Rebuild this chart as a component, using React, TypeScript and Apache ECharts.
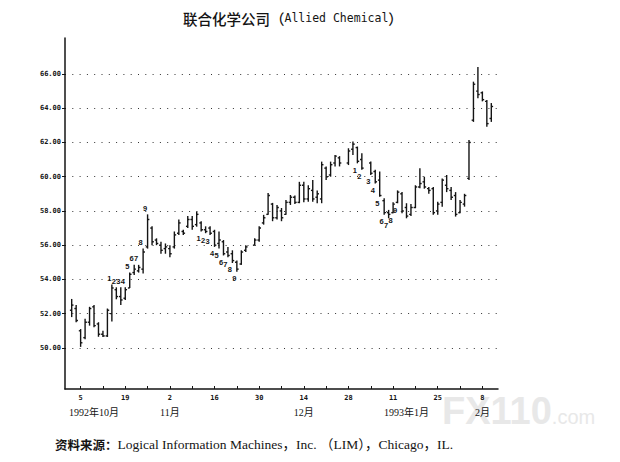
import React, { useEffect, useRef } from "react";
import * as echarts from "echarts";

const dates = [
  "1992-09-30", "1992-10-01", "1992-10-02",
  "1992-10-05", "1992-10-06", "1992-10-07", "1992-10-08", "1992-10-09",
  "1992-10-12", "1992-10-13", "1992-10-14", "1992-10-15", "1992-10-16",
  "1992-10-19", "1992-10-20", "1992-10-21", "1992-10-22", "1992-10-23",
  "1992-10-26", "1992-10-27", "1992-10-28", "1992-10-29", "1992-10-30",
  "1992-11-02", "1992-11-03", "1992-11-04", "1992-11-05", "1992-11-06",
  "1992-11-09", "1992-11-10", "1992-11-11", "1992-11-12", "1992-11-13",
  "1992-11-16", "1992-11-17", "1992-11-18", "1992-11-19", "1992-11-20",
  "1992-11-23", "1992-11-24", "1992-11-25", "1992-11-26", "1992-11-27",
  "1992-11-30", "1992-12-01", "1992-12-02", "1992-12-03", "1992-12-04",
  "1992-12-07", "1992-12-08", "1992-12-09", "1992-12-10", "1992-12-11",
  "1992-12-14", "1992-12-15", "1992-12-16", "1992-12-17", "1992-12-18",
  "1992-12-21", "1992-12-22", "1992-12-23", "1992-12-24", "1992-12-25",
  "1992-12-28", "1992-12-29", "1992-12-30", "1992-12-31", "1993-01-01",
  "1993-01-04", "1993-01-05", "1993-01-06", "1993-01-07", "1993-01-08",
  "1993-01-11", "1993-01-12", "1993-01-13", "1993-01-14", "1993-01-15",
  "1993-01-18", "1993-01-19", "1993-01-20", "1993-01-21", "1993-01-22",
  "1993-01-25", "1993-01-26", "1993-01-27", "1993-01-28", "1993-01-29",
  "1993-02-01", "1993-02-02", "1993-02-03", "1993-02-04", "1993-02-05",
  "1993-02-08", "1993-02-09", "1993-02-10", "1993-02-11",
];

const opens = [
  null, 52.2, 52.3, 51.0, 50.6, 51.5, 52.4, 51.4, 50.8, 50.7,
  52.0, 53.4, 53.0, 52.9, 53.5, 54.4, 54.5, 54.6, 55.9, 57.0,
  56.3, 56.0, 55.8, 55.8, 55.9, 56.7, 56.8, 57.1, 57.5, 57.2,
  57.3, 56.9, 57.0, 56.8, 56.1, 56.2, 55.6, 55.5, 55.0, 54.9,
  55.7, null, 56.0, 56.3, 57.3, 57.8, 58.4, 57.6, 58.0, 57.8,
  58.5, 58.8, 58.5, 59.5, 58.7, 59.2, 58.8, 58.7, 60.5, 60.1,
  60.8, 61.1, null, 60.8, 61.6, 61.7, 61.0, null, 60.8, 60.3,
  59.8, 58.6, 57.9, 57.9, 58.5, 59.0, 58.2, 57.8, 58.2, 59.4,
  59.7, 59.3, 59.3, 58.0, 58.5, 59.5, 59.2, 58.9, 57.9, 58.4,
  59.9, 63.3, 65.0, 64.9, 64.4, 63.4, null,
];
const highs = [
  null, 52.86, 52.5, 51.1, 51.7, 52.4, 52.5, 51.5, 51.0, 52.3,
  53.7, 53.54, 53.54, 53.54, 54.4, 54.85, 54.85, 55.8, 57.8, 57.1,
  56.4, 56.2, 56.1, 56.0, 56.8, 57.5, 56.9, 57.7, 57.7, 57.96,
  57.4, 57.1, 57.1, 56.9, 56.8, 56.3, 55.9, 55.7, 55.1, 55.7,
  56.0, null, 56.4, 57.1, 57.77, 59.05, 58.47, 58.35, 58.17, 58.64,
  58.93, 58.9, 59.7, 59.7, 59.5, 59.8, 59.2, 60.88, 60.6, 60.88,
  61.27, 61.2, null, 61.66, 62.05, 61.76, 61.37, null, 60.88, 60.4,
  60.3, 58.74, 58.06, 58.5, 59.2, 59.1, 58.45, 58.4, 59.5, 60.5,
  60.0, 59.4, 59.4, 58.54, 59.9, 60.1, 59.4, 59.1, 58.64, 59.0,
  62.15, 65.55, 66.4, 64.98, 64.48, 64.3, null,
];
const lows = [
  null, 51.8, 51.5, 50.06, 50.5, 51.3, 51.2, 50.65, 50.64, 50.64,
  51.54, 52.84, 52.5, 52.8, 53.5, 54.26, 54.4, 54.35, 55.8, 56.0,
  56.0, 55.5, 55.5, 55.3, 55.8, 56.6, 56.6, 57.0, 56.9, 57.08,
  56.8, 56.7, 56.6, 55.9, 55.8, 55.4, 55.3, 54.96, 54.45, 54.85,
  55.6, null, 56.0, 56.2, 57.2, 57.77, 57.4, 57.5, 57.4, 57.77,
  58.35, 58.4, 58.45, 58.5, 58.54, 58.54, 58.45, 58.45, 59.8, 60.0,
  60.6, 60.6, null, 60.68, 61.27, 60.78, 60.4, null, 60.1, 59.6,
  58.83, 57.77, 57.57, 57.87, 58.45, 57.87, 57.57, 57.7, 58.16, 59.33,
  59.3, 59.0, 57.77, 57.77, 58.25, 59.1, 58.64, 57.67, 57.87, 58.25,
  59.8, 63.2, 64.58, 64.4, 62.92, 63.2, null,
];
const closes = [
  null, 52.5, 51.6, 50.3, 51.5, 52.3, 51.3, 50.8, 50.7, 52.2,
  53.5, 53.0, 52.8, 53.4, 54.3, 54.6, 54.7, 55.6, 57.5, 56.2,
  56.1, 55.7, 55.9, 55.5, 56.6, 57.3, 56.7, 57.5, 57.1, 57.8,
  56.9, 56.8, 56.7, 56.0, 56.3, 55.5, 55.4, 55.1, 54.6, 55.6,
  55.9, null, 56.3, 57.0, 57.6, 58.9, 57.6, 58.2, 57.6, 58.5,
  58.8, 58.5, 59.5, 58.7, 59.3, 58.7, 59.0, 60.7, 60.0, 60.7,
  61.2, 60.8, null, 61.5, 61.9, 60.9, 60.5, null, 60.2, 59.7,
  58.9, 57.9, 57.8, 58.4, 59.1, 58.0, 57.7, 58.2, 59.4, 59.6,
  59.4, 59.2, 57.9, 58.4, 59.8, 59.3, 58.8, 57.8, 58.5, 58.9,
  62.0, 65.4, 64.8, 64.5, 63.1, 64.1, null,
];

// TD-style setup counts printed on the chart
const upSetupDates = ["1992-10-14", "1992-10-15", "1992-10-16", "1992-10-19", "1992-10-20", "1992-10-21", "1992-10-22", "1992-10-23", "1992-10-26"];
const upSetupText = ["1", "2", "3", "4", "5", "6", "7", "8", "9"];
const downSetupDates = [
  "1992-11-11", "1992-11-12", "1992-11-13", "1992-11-16", "1992-11-17", "1992-11-18", "1992-11-19", "1992-11-20", "1992-11-23",
  "1992-12-30", "1992-12-31", "1993-01-04", "1993-01-05", "1993-01-06", "1993-01-07", "1993-01-08", "1993-01-11", "1993-01-12",
];
const downSetupText = ["1", "2", "3", "4", "5", "6", "7", "8", "9", "1", "2", "3", "4", "5", "6", "7", "8", "9"];

const weekTicks = [
  "1992-10-05", "1992-10-12", "1992-10-19", "1992-10-26", "1992-11-02", "1992-11-09", "1992-11-16", "1992-11-23", "1992-11-30",
  "1992-12-07", "1992-12-14", "1992-12-21", "1992-12-28", "1993-01-04", "1993-01-11", "1993-01-18", "1993-01-25", "1993-02-01", "1993-02-08",
];
const tickLabelDates = ["1992-10-05", "1992-10-19", "1992-11-02", "1992-11-16", "1992-11-30", "1992-12-14", "1992-12-28", "1993-01-11", "1993-01-25", "1993-02-08"];
const tickLabels = ["5", "19", "2", "16", "30", "14", "28", "11", "25", "8"];
const monthLabelDates = ["1992-10-08", "1992-11-02", "1992-12-14", "1993-01-14", "1993-02-08"];
const monthLabels = ["1992年10月", "11月", "12月", "1993年1月", "2月"];

const yTicks = [50, 52, 54, 56, 58, 60, 62, 64, 66];

const titleCn = "联合化学公司";
const titleEn = "Allied Chemical";
const sourceLead = "资料来源：";
const sourceText = "Logical Information Machines，Inc. （LIM），Chicago，IL.";
const watermarkMain = "FX110";
const watermarkTail = ".com";

const INK = "#141414";

export default function App() {
  const ref = useRef<HTMLDivElement>(null);

  useEffect(() => {
    document.body.style.margin = "0";
    const chart = echarts.init(ref.current!, null, { renderer: "svg" });

    const barData: any[] = [];
    dates.forEach((d, i) => {
      if (highs[i] != null) barData.push([i, opens[i], highs[i], lows[i], closes[i]]);
    });
    const upData = upSetupDates.map((d, k) => {
      const i = dates.indexOf(d);
      return [i, highs[i], upSetupText[k]];
    });
    const downData = downSetupDates.map((d, k) => {
      const i = dates.indexOf(d);
      return [i, lows[i], downSetupText[k]];
    });

    const lineStyle = { stroke: INK, lineWidth: 1.4 };

    const labelRender = (above: boolean) => (params: any, api: any) => {
      const p = api.coord([api.value(0), api.value(1)]);
      return {
        type: "text",
        x: p[0] - 2.5,
        y: above ? p[1] - 2 : p[1] + 3,
        style: {
          text: String(api.value(2)),
          fill: INK,
          fontSize: 7.5,
          fontWeight: "bold",
          fontFamily: "Liberation Sans, Arial, sans-serif",
          align: "center",
          verticalAlign: above ? "bottom" : "top",
        },
      };
    };

    chart.setOption({
      animation: false,
      backgroundColor: "#ffffff",
      grid: { left: 65, top: 38, width: 433, height: 351 },
      xAxis: [
        {
          type: "category",
          data: dates,
          boundaryGap: true,
          position: "bottom",
          axisLine: { show: true, lineStyle: { color: INK, width: 1.5 } },
          axisTick: {
            show: true,
            alignWithLabel: true,
            inside: true,
            length: 3,
            interval: (i: number, v: string) => weekTicks.includes(v),
            lineStyle: { color: INK, width: 1 },
          },
          axisLabel: {
            interval: (i: number, v: string) => tickLabelDates.includes(v),
            formatter: (v: string) => tickLabels[tickLabelDates.indexOf(v)] ?? "",
            fontSize: 7,
            fontWeight: "bold",
            fontFamily: "DejaVu Sans Mono, monospace",
            color: INK,
            margin: 5,
          },
          splitLine: { show: false },
        },
        {
          type: "category",
          data: dates,
          boundaryGap: true,
          position: "bottom",
          offset: 0,
          axisLine: { show: false },
          axisTick: { show: false },
          axisLabel: {
            interval: (i: number, v: string) => monthLabelDates.includes(v),
            formatter: (v: string) => monthLabels[monthLabelDates.indexOf(v)] ?? "",
            fontSize: 10,
            fontFamily: "Liberation Serif, Noto Sans CJK SC, serif",
            color: INK,
            margin: 18,
          },
          splitLine: { show: false },
        },
      ],
      yAxis: {
        type: "value",
        min: 47.6,
        max: 68.1,
        axisLine: { show: true, lineStyle: { color: INK, width: 1.5 } },
        axisTick: { show: true, length: 3, customValues: yTicks, lineStyle: { color: INK } },
        axisLabel: {
          customValues: yTicks,
          formatter: (v: number) => v.toFixed(2),
          fontSize: 7,
          fontWeight: "bold",
          fontFamily: "DejaVu Sans Mono, monospace",
          color: INK,
          margin: 4,
        },
        splitLine: { show: true, lineStyle: { type: [1, 6.3], color: "#333", width: 1 } },
      },
      series: [
        {
          type: "custom",
          xAxisIndex: 0,
          encode: { x: 0, y: [1, 2, 3, 4] },
          data: barData,
          renderItem: (params: any, api: any) => {
            const xi = api.value(0);
            const pO = api.coord([xi, api.value(1)]);
            const pH = api.coord([xi, api.value(2)]);
            const pL = api.coord([xi, api.value(3)]);
            const pC = api.coord([xi, api.value(4)]);
            const w = 1.8;
            return {
              type: "group",
              children: [
                { type: "line", shape: { x1: pH[0], y1: pH[1], x2: pL[0], y2: pL[1] }, style: lineStyle },
                { type: "line", shape: { x1: pO[0] - w, y1: pO[1], x2: pO[0], y2: pO[1] }, style: lineStyle },
                { type: "line", shape: { x1: pC[0], y1: pC[1], x2: pC[0] + w, y2: pC[1] }, style: lineStyle },
              ],
            };
          },
        },
        {
          type: "custom",
          xAxisIndex: 0,
          encode: { x: 0, y: 1 },
          data: upData,
          renderItem: labelRender(true),
        },
        {
          type: "custom",
          xAxisIndex: 0,
          encode: { x: 0, y: 1 },
          data: downData,
          renderItem: labelRender(false),
        },
      ],
      graphic: [
        {
          type: "text",
          left: 442,
          top: 392,
          z: -10,
          silent: true,
          style: {
            text: `{a|${watermarkMain}}{b|${watermarkTail}}`,
            rich: {
              a: { fontSize: 38, fontWeight: "bold", fontFamily: "Liberation Sans, Arial", fill: "#e8e8e8" },
              b: { fontSize: 20, fontFamily: "Liberation Sans, Arial", fill: "#e8e8e8", padding: [12, 0, 0, 0] },
            },
          },
        },
        {
          type: "text",
          left: 183,
          top: 11,
          style: {
            text: `{cn|${titleCn}（}{en|${titleEn}}{cn|）}`,
            rich: {
              cn: { fontSize: 14.5, fontFamily: "Noto Sans CJK SC", fontWeight: 500, fill: INK },
              en: { fontSize: 11.5, fontFamily: "DejaVu Sans Mono, monospace", fill: INK },
            },
          },
        },
        {
          type: "text",
          left: 55,
          top: 438,
          style: {
            text: `{b|${sourceLead}}{r|${sourceText}}`,
            rich: {
              b: { fontSize: 12.5, fontWeight: "bold", fontFamily: "Noto Sans CJK SC", fill: INK },
              r: { fontSize: 13.5, fontFamily: "Liberation Serif, Noto Sans CJK SC, serif", fill: INK },
            },
          },
        },
      ],
    });

    return () => chart.dispose();
  }, []);

  return <div ref={ref} style={{ width: 620, height: 462 }} />;
}
